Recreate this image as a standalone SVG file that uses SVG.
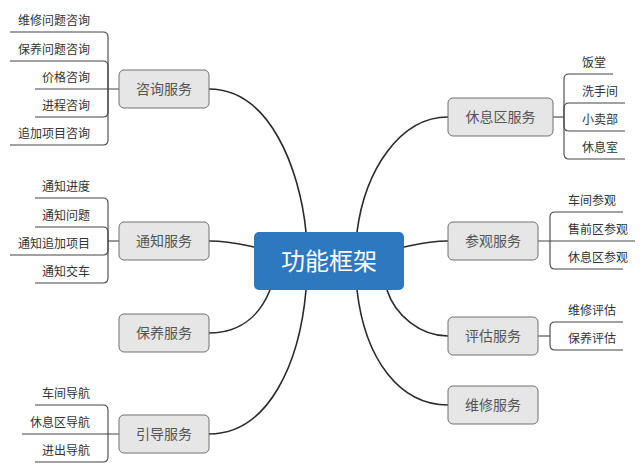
<svg xmlns="http://www.w3.org/2000/svg" width="640" height="468" viewBox="0 0 640 468">
<style>
.bg{fill:#fff}
.main rect{fill:#2e78c0}
.main text{fill:#fff;font-size:24px}
.node rect{fill:#e6e6e6;stroke:#707070;stroke-width:1}
.node text{fill:#555;font-size:14px;text-anchor:middle}
text{font-family:"Noto Sans CJK SC","Microsoft YaHei",sans-serif}
.leaf{fill:#333;font-size:12px}
.l{text-anchor:end}
.conn path{fill:none;stroke:#2a2a2a;stroke-width:1.6}
.br path{fill:none;stroke:#444;stroke-width:1.1}
</style>
<rect class="bg" width="640" height="468"/>
<g id="connectors">
<g class="conn">
<path d="M209,89 C270,89 300,170 306,232"/>
<path d="M209,241 C230,241 240,244 254,247"/>
<path d="M209,333 C245,333 262,310 270,290"/>
<path d="M209,434 C270,434 300,360 306,290"/>
<path d="M448,117 C400,117 365,170 357,232"/>
<path d="M448,241 C428,241 418,244 404,247"/>
<path d="M448,336 C420,336 395,315 387,290"/>
<path d="M448,405 C400,405 365,360 357,290"/>
</g>
<g class="br">
<path d="M10,32 H103 Q108,32 108,37 V89"/>
<path d="M10,61 H103 Q108,61 108,66 V89"/>
<path d="M35,89 H119"/>
<path d="M35,117 H103 Q108,117 108,112 V89"/>
<path d="M10,145 H103 Q108,145 108,140 V89"/>
<path d="M35,198 H103 Q108,198 108,203 V241"/>
<path d="M35,227 H103 Q108,227 108,232 V241"/>
<path d="M10,255 H103 Q108,255 108,250 V241"/>
<path d="M35,283 H103 Q108,283 108,278 V241"/>
<path d="M108,241 H119"/>
<path d="M35,405 H103 Q108,405 108,410 V434"/>
<path d="M22,434 H119"/>
<path d="M35,462 H103 Q108,462 108,457 V434"/>
<path d="M613,74 H569 Q564,74 564,79 V117"/>
<path d="M625,103 H569 Q564,103 564,108 V117"/>
<path d="M625,131 H569 Q564,131 564,126 V117"/>
<path d="M625,159 H569 Q564,159 564,154 V117"/>
<path d="M553,117 H564"/>
<path d="M623,212 H555 Q550,212 550,217 V241"/>
<path d="M538,241 H635"/>
<path d="M623,269 H555 Q550,269 550,264 V241"/>
<path d="M623,322 H555 Q550,322 550,327 V336"/>
<path d="M623,350 H555 Q550,350 550,345 V336"/>
<path d="M538,336 H550"/>
</g>
</g>
<g id="main" class="main"><rect x="254" y="232" width="150" height="58" rx="5"/><text x="329" y="270" text-anchor="middle">功能框架</text></g>
<g id="n-zixun" class="node"><rect x="119" y="70" width="90" height="38" rx="5"/><text x="164" y="94">咨询服务</text></g>
<g id="n-tongzhi" class="node"><rect x="119" y="222" width="90" height="38" rx="5"/><text x="164" y="246">通知服务</text></g>
<g id="n-baoyang" class="node"><rect x="119" y="314" width="90" height="38" rx="5"/><text x="164" y="338">保养服务</text></g>
<g id="n-yindao" class="node"><rect x="119" y="415" width="90" height="38" rx="5"/><text x="164" y="439">引导服务</text></g>
<g id="n-xiuxiqu" class="node"><rect x="448" y="98" width="105" height="38" rx="5"/><text x="500.5" y="122">休息区服务</text></g>
<g id="n-canguan" class="node"><rect x="448" y="222" width="90" height="38" rx="5"/><text x="493" y="246">参观服务</text></g>
<g id="n-pinggu" class="node"><rect x="448" y="317" width="90" height="38" rx="5"/><text x="493" y="341">评估服务</text></g>
<g id="n-weixiu" class="node"><rect x="448" y="386" width="90" height="38" rx="5"/><text x="493" y="410">维修服务</text></g>
<g id="leaves-left" class="leaf l">
<text x="90" y="25">维修问题咨询</text>
<text x="90" y="54">保养问题咨询</text>
<text x="90" y="82">价格咨询</text>
<text x="90" y="110">进程咨询</text>
<text x="90" y="138">追加项目咨询</text>
<text x="90" y="191">通知进度</text>
<text x="90" y="220">通知问题</text>
<text x="90" y="248">通知追加项目</text>
<text x="90" y="276">通知交车</text>
<text x="90" y="398">车间导航</text>
<text x="90" y="427">休息区导航</text>
<text x="90" y="455">进出导航</text>
</g>
<g id="leaves-right" class="leaf">
<text x="582" y="67">饭堂</text>
<text x="582" y="96">洗手间</text>
<text x="582" y="124">小卖部</text>
<text x="582" y="152">休息室</text>
<text x="568" y="205">车间参观</text>
<text x="568" y="234">售前区参观</text>
<text x="568" y="262">休息区参观</text>
<text x="568" y="315">维修评估</text>
<text x="568" y="343">保养评估</text>
</g>
</svg>
